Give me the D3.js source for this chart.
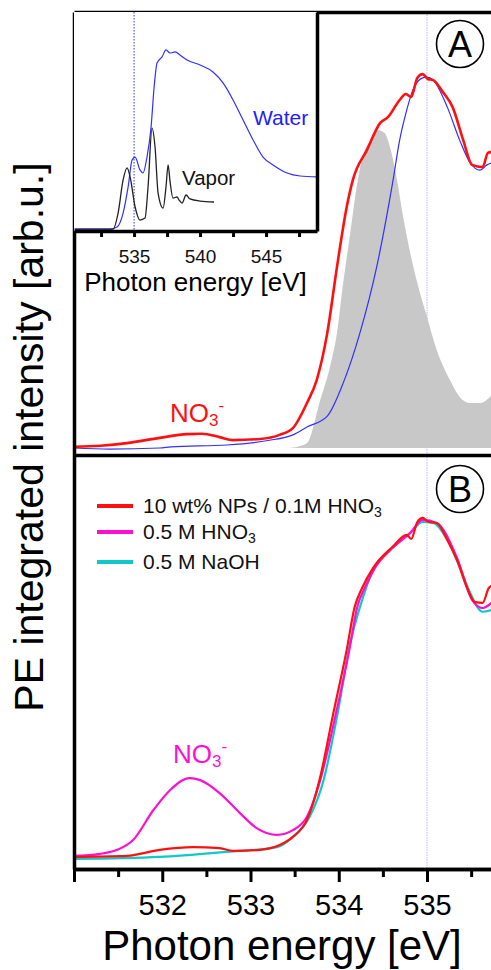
<!DOCTYPE html>
<html>
<head>
<meta charset="utf-8">
<script src="https://cdn.jsdelivr.net/npm/d3@7"></script>
<style>
	body { margin: 0; background: #fff; }
	text { font-family: "Liberation Sans", Arial, Helvetica, sans-serif; }
	.frame path.domain { stroke: #000; stroke-width: 3.5; }
	.frame line { stroke: #000; stroke-width: 3; }
</style>
</head>
<body>
<div id="chart"></div>
<script>
// tick values
var mainTicks = [531, 532, 533, 534, 535];
var mainMinor = [531.5, 532.5, 533.5, 534.5, 535.5];
var insetTicks = [532.5, 535, 537.5, 540, 542.5, 545, 547.5];
var insetLabels = [535, 540, 545];

// inset: O K-edge spectra, [photon energy eV, norm. intensity]
var insetWater = [[530.5,0],[533.18,0],[533.71,0.011],[534.17,0.089],[534.55,0.235],[534.85,0.385],[535.08,0.402],[535.45,0.33],[535.68,0.313],[535.98,0.402],[536.29,0.57],[536.52,0.793],[536.74,0.927],[537.12,0.961],[537.42,1.0],[537.73,0.983],[538.11,0.989],[538.48,0.972],[539.02,0.944],[540.0,0.916],[540.98,0.877],[541.74,0.816],[542.5,0.721],[543.26,0.609],[544.02,0.497],[544.77,0.402],[545.53,0.358],[546.59,0.313],[547.58,0.296],[548.86,0.291]];
var insetVapor = [[530.5,0],[533.41,0],[533.79,0.089],[534.17,0.274],[534.47,0.341],[534.7,0.291],[535.08,0.123],[535.45,0.05],[535.83,0.061],[536.06,0.235],[536.36,0.564],[536.59,0.458],[536.82,0.201],[537.2,0.117],[537.42,0.235],[537.58,0.358],[537.73,0.263],[537.95,0.173],[538.26,0.179],[538.41,0.162],[538.64,0.145],[538.94,0.19],[539.24,0.168],[540.0,0.156],[541.06,0.151]];

// panel A
var aNanoparticles = [[531.0,0.003],[531.3,0.006],[531.6,0.013],[531.97,0.027],[532.28,0.037],[532.45,0.038],[532.65,0.029],[532.8,0.021],[533.11,0.024],[533.33,0.035],[533.48,0.053],[533.64,0.12],[533.75,0.181],[533.87,0.307],[533.98,0.483],[534.09,0.643],[534.16,0.715],[534.32,0.795],[534.47,0.867],[534.56,0.883],[534.69,0.928],[534.76,0.944],[534.82,0.936],[534.89,0.987],[534.95,0.997],[535.01,0.984],[535.07,0.981],[535.18,0.949],[535.29,0.909],[535.41,0.821],[535.51,0.755],[535.63,0.749],[535.69,0.787],[535.73,0.789]];
var aWater = [[531.0,0.0],[531.4,-0.003],[531.97,0.0],[532.1,0.003],[532.73,0.008],[533.2,0.02],[533.48,0.035],[533.64,0.056],[533.87,0.085],[534.05,0.173],[534.24,0.307],[534.43,0.483],[534.61,0.707],[534.69,0.821],[534.77,0.901],[534.84,0.955],[534.95,0.987],[535.0,0.989],[535.07,0.981],[535.23,0.909],[535.37,0.821],[535.49,0.76],[535.6,0.741],[535.68,0.755],[535.73,0.76]];
var aVapor = [[533.45,0],[533.56,0.005],[533.64,0.013],[533.79,0.128],[533.9,0.216],[533.98,0.307],[534.05,0.44],[534.13,0.573],[534.21,0.707],[534.27,0.776],[534.39,0.829],[534.44,0.848],[534.52,0.84],[534.58,0.803],[534.66,0.715],[534.73,0.616],[534.81,0.52],[534.89,0.44],[535.0,0.349],[535.11,0.261],[535.26,0.181],[535.37,0.136],[535.49,0.12],[535.6,0.12],[535.73,0.14]];

// panel B
var bNanoparticles = [[531.0,0.003],[531.6,0.006],[531.97,0.024],[532.35,0.032],[532.65,0.029],[532.8,0.021],[533.11,0.024],[533.33,0.038],[533.48,0.062],[533.64,0.112],[533.79,0.238],[533.93,0.415],[534.09,0.612],[534.18,0.738],[534.27,0.797],[534.39,0.853],[534.61,0.915],[534.77,0.95],[534.82,0.938],[534.89,0.988],[534.95,1.0],[535.02,0.988],[535.11,0.985],[535.23,0.935],[535.34,0.876],[535.45,0.797],[535.54,0.753],[535.63,0.75],[535.7,0.794],[535.73,0.8]];
var bHNO3 = [[531.0,0.006],[531.29,0.012],[531.49,0.024],[531.67,0.053],[531.9,0.141],[532.09,0.2],[532.31,0.235],[532.43,0.229],[532.65,0.191],[532.88,0.132],[533.07,0.088],[533.3,0.068],[533.48,0.082],[533.64,0.121],[533.79,0.229],[533.96,0.415],[534.12,0.612],[534.21,0.738],[534.3,0.797],[534.41,0.853],[534.61,0.912],[534.81,0.956],[534.95,0.994],[535.11,0.985],[535.34,0.882],[535.51,0.759],[535.63,0.735],[535.73,0.75]];
var bNaOH = [[531.0,-0.003],[531.97,0.003],[532.73,0.018],[533.3,0.032],[533.48,0.062],[533.67,0.121],[533.82,0.221],[533.98,0.415],[534.13,0.632],[534.24,0.738],[534.39,0.847],[534.61,0.912],[534.81,0.956],[534.95,0.988],[535.07,0.985],[535.23,0.935],[535.37,0.856],[535.49,0.779],[535.63,0.724],[535.73,0.729]];

var legendNames = ["10 wt% NPs / 0.1M HNO", "0.5 M HNO", "0.5 M NaOH"];
var legendSubs = ["3", "3", ""];
var legendColors = ["#ff1010", "#ff10d0", "#10c8c8"];

var width = 491, height = 970;
var svg = d3.select("#chart").append("svg")
	.attr("width", width)
	.attr("height", height);

//Scales
var x = d3.scaleLinear().domain([531, 535.725]).range([74, 491]);
var yA = d3.scaleLinear().domain([-0.0187, 1.1627]).range([455, 12]);
var yB = d3.scaleLinear().domain([-0.0324, 1.185]).range([869, 455]);
var xi = d3.scaleLinear().domain([530.45, 548.86]).range([74, 317]);
var yi = d3.scaleLinear().domain([-0.011, 1.212]).range([231, 12]);

var lineA = d3.line().x(function(d){ return x(d[0]); }).y(function(d){ return yA(d[1]); }).curve(d3.curveMonotoneX);
var lineB = d3.line().x(function(d){ return x(d[0]); }).y(function(d){ return yB(d[1]); }).curve(d3.curveMonotoneX);
var lineI = d3.line().x(function(d){ return xi(d[0]); }).y(function(d){ return yi(d[1]); }).curve(d3.curveMonotoneX);

//Reference line at 535 eV
svg.append("line")
	.attr("x1", x(535)).attr("x2", x(535))
	.attr("y1", yA.range()[1]).attr("y2", yB.range()[0])
	.attr("stroke", "#a8a8f0")
	.attr("stroke-width", 0.8)
	.attr("stroke-dasharray", "1.5,1");

//Panel A
svg.append("path")
	.datum(aVapor)
	.attr("fill", "#c8c8c8")
	.attr("d", d3.area()
		.x(function(d){ return x(d[0]); })
		.y0(yA(0))
		.y1(function(d){ return yA(d[1]); })
		.curve(d3.curveMonotoneX));

svg.append("path").datum(aWater)
	.attr("fill", "none").attr("stroke", "#3030ff").attr("stroke-width", 1.2)
	.attr("d", lineA);
svg.append("path").datum(aNanoparticles)
	.attr("fill", "none").attr("stroke", "#ff1010").attr("stroke-width", 2.6)
	.attr("stroke-linejoin", "round")
	.attr("d", lineA);

var no3A = svg.append("text").attr("x", 170).attr("y", 422).attr("fill", "#ff1010").attr("font-size", 26);
no3A.append("tspan").text("NO");
no3A.append("tspan").attr("font-size", 17).attr("dy", 4).text("3");
no3A.append("tspan").attr("font-size", 17).attr("dy", -15).text("-");

//Panel B
svg.append("path").datum(bNaOH)
	.attr("fill", "none").attr("stroke", legendColors[2]).attr("stroke-width", 2.2)
	.attr("d", lineB);
svg.append("path").datum(bHNO3)
	.attr("fill", "none").attr("stroke", legendColors[1]).attr("stroke-width", 2.2)
	.attr("d", lineB);
svg.append("path").datum(bNanoparticles)
	.attr("fill", "none").attr("stroke", legendColors[0]).attr("stroke-width", 2.2)
	.attr("d", lineB);

var no3B = svg.append("text").attr("x", 173).attr("y", 763).attr("fill", "#ff10d0").attr("font-size", 26);
no3B.append("tspan").text("NO");
no3B.append("tspan").attr("font-size", 17).attr("dy", 4).text("3");
no3B.append("tspan").attr("font-size", 17).attr("dy", -15).text("-");

//Legend
var legend = svg.append("g").attr("class", "legend");
legendNames.forEach(function(name, i){
	var ly = [506, 532, 562][i];
	legend.append("line")
		.attr("x1", 97).attr("x2", 133)
		.attr("y1", ly).attr("y2", ly)
		.attr("stroke", legendColors[i]).attr("stroke-width", 4);
	var t = legend.append("text")
		.attr("x", 143).attr("y", ly + 7)
		.attr("font-size", 21).attr("fill", "#111");
	t.append("tspan").text(name);
	if (legendSubs[i]) t.append("tspan").attr("font-size", 14).attr("dy", 4).text(legendSubs[i]);
});

//Main frame and axes
var frame = svg.append("g").attr("class", "frame");
frame.append("g")
	.attr("transform", "translate(0,12)")
	.call(d3.axisTop(x).tickValues([]).tickSizeOuter(0));
frame.append("g")
	.attr("transform", "translate(0,455)")
	.call(d3.axisBottom(x).tickValues([]).tickSizeOuter(0));
frame.append("g")
	.attr("transform", "translate(0,869)")
	.call(d3.axisBottom(x).tickValues(mainMinor).tickSize(8).tickFormat("").tickSizeOuter(0));
var xAxis = frame.append("g")
	.attr("transform", "translate(0,869)")
	.call(d3.axisBottom(x).tickValues(mainTicks).tickSize(13).tickSizeOuter(0)
		.tickFormat(function(d){ return d === 531 ? "" : d; }));
xAxis.selectAll("text")
	.attr("y", 46).attr("dy", 0)
	.attr("font-size", 29).attr("fill", "#000")
	.style("font-family", "'Liberation Sans', Arial, sans-serif");
frame.append("g")
	.attr("transform", "translate(74,0)")
	.call(d3.axisLeft(d3.scaleLinear().range([12, 869])).tickValues([]).tickSizeOuter(0));

//Axis titles
svg.append("text")
	.attr("text-anchor", "middle")
	.attr("transform", "translate(43,437)rotate(-90)")
	.attr("font-size", 41)
	.text("PE integrated intensity [arb.u.]");
svg.append("text")
	.attr("text-anchor", "middle")
	.attr("x", 282).attr("y", 960)
	.attr("font-size", 42)
	.text("Photon energy [eV]");

//Panel badges
[["A", 44], ["B", 489]].forEach(function(b){
	svg.append("circle")
		.attr("cx", 460).attr("cy", b[1]).attr("r", 23.5)
		.attr("fill", "none").attr("stroke", "#000").attr("stroke-width", 1.6);
	svg.append("text")
		.attr("x", 460).attr("y", b[1] + 13)
		.attr("text-anchor", "middle")
		.attr("font-size", 36)
		.text(b[0]);
});

//Inset
var inset = svg.append("g").attr("class", "inset");
inset.append("rect")
	.attr("x", 74).attr("y", 12).attr("width", 243).attr("height", 219)
	.attr("fill", "#fff");
inset.append("line")
	.attr("x1", xi(535)).attr("x2", xi(535))
	.attr("y1", 12).attr("y2", 231)
	.attr("stroke", "#3030ff").attr("stroke-width", 1)
	.attr("stroke-dasharray", "1.5,1.5");
inset.append("path").datum(insetWater)
	.attr("fill", "none").attr("stroke", "#3030ff").attr("stroke-width", 1.2)
	.attr("d", lineI);
inset.append("path").datum(insetVapor)
	.attr("fill", "none").attr("stroke", "#222").attr("stroke-width", 1.3)
	.attr("d", lineI);
inset.append("text")
	.attr("x", 253).attr("y", 125)
	.attr("font-size", 21).attr("fill", "#2020ff")
	.text("Water");
inset.append("text")
	.attr("x", 182).attr("y", 185)
	.attr("font-size", 20.5).attr("fill", "#111")
	.text("Vapor");

var insetFrame = inset.append("g").attr("class", "frame");
var ixAxis = insetFrame.append("g")
	.attr("transform", "translate(0,231)")
	.call(d3.axisBottom(xi).tickValues(insetTicks).tickSize(6).tickSizeOuter(0)
		.tickFormat(function(d){ return insetLabels.indexOf(d) >= 0 ? d : ""; }));
ixAxis.selectAll("text")
	.attr("y", 32).attr("dy", 0)
	.attr("font-size", 19).attr("fill", "#111")
	.style("font-family", "'Liberation Sans', Arial, sans-serif");
insetFrame.append("g")
	.attr("transform", "translate(317,0)")
	.call(d3.axisRight(yi).tickValues([]).tickSizeOuter(0));
inset.append("text")
	.attr("text-anchor", "middle")
	.attr("x", 195.5).attr("y", 291)
	.attr("font-size", 26)
	.text("Photon energy [eV]");
</script>
</body>
</html>
